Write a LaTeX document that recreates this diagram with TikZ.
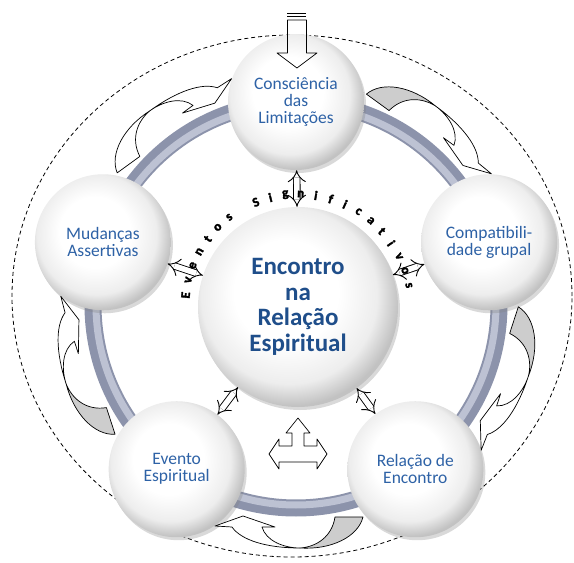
\documentclass[tikz,border=0pt]{standalone}
\usepackage{fontspec}
\setmainfont{Carlito}
\newfontfamily\glyphfont[FakeBold=2.5]{Carlito}
\usetikzlibrary{arrows.meta,shadows,positioning}

\definecolor{txtblue}{HTML}{2E62A6}
\definecolor{deepblue}{HTML}{1F4E8A}
\definecolor{ringdark}{HTML}{8C93AB}
\definecolor{ringlight}{HTML}{BDC2D3}
\definecolor{tailgray}{HTML}{CDCDCD}

\pgfdeclareradialshading{bubble}{\pgfpoint{-4bp}{5bp}}{color(0bp)=(white); color(13bp)=(white); color(22bp)=(black!7); color(27bp)=(black!24); color(50bp)=(black!24)}

\tikzset{
  stage/.style={circle, minimum size=136pt, shading=bubble, align=center,
    drop shadow={shadow xshift=2pt, shadow yshift=-3pt, opacity=0.3},
    text=txtblue, font=\fontsize{17.5}{17}\selectfont},
  core/.style={stage, minimum size=200pt, text=deepblue,
    font=\fontsize{25}{25.5}\selectfont\bfseries},
  link/.style={double=white, double distance=5.6pt, line width=0.9pt, {Implies}-{Implies}},
  turn/.style={draw=black, line width=0.7pt, line join=round},
  glyph/.style={inner sep=0pt, font=\fontsize{13}{13}\glyphfont\bfseries},
}

% curved arrow between two stages: #1 rotation, #2 tail colour
\newcommand{\swirl}[2]{%
  \begin{scope}[rotate=#1]
    \draw[turn, fill=#2] (67,-212) -- (39,-212) .. controls (36,-232) and (20,-242) .. (4,-243)
      .. controls (35,-245) and (62,-232) .. (67,-212) -- cycle;
    \draw[turn, fill=white] (4,-243) .. controls (-30,-243) and (-55,-235) .. (-64,-222)
      -- (-81,-221) -- (-53,-211) -- (-21,-222) -- (-34,-222)
      .. controls (-30,-236) and (-12,-243) .. (4,-243) -- cycle;
  \end{scope}}

\begin{document}
\begin{tikzpicture}[x=1pt, y=1pt]
  \useasboundingbox (-296,-258) rectangle (278,305);

  % outer dashed border and ring
  \draw[dash pattern=on 4pt off 3pt, line width=0.8pt] (-4,9) ellipse[x radius=280, y radius=261];
  \draw[ringdark, line width=17pt] (0,0) circle[radius=203];
  \draw[ringlight, line width=7pt] (0,0) circle[radius=200];

  % stages
  \node[core] (centro) at (2,-2) {Encontro\\na\\Relação\\Espiritual};
  \node[stage] (consc) at (90:203) {Consciência\\das\\Limitações};
  \node[stage] (compat) at (18:203) {Compatibili-\\dade grupal};
  \node[stage] (relac) at (-54:203) {Relação de\\Encontro};
  \node[stage] (evento) at (-126:203) {Evento\\Espiritual};
  \node[stage] (mudanc) at (162:203) {Mudanças\\Assertivas};

  % links to the centre
  \draw[link] (consc) -- (centro);
  \draw[link] (compat) -- (centro);
  \draw[link] (relac) -- (centro);
  \draw[link] (evento) -- (centro);
  \draw[link] (mudanc) -- (centro);

  % text on the arc
  \foreach \ch [count=\i, evaluate=\i as \ang using 174-(\i-1)*7.76] in
      {E,v,e,n,t,o,s,{},S,i,g,n,i,f,i,c,a,t,i,v,o,s}
    \node[glyph, rotate=\ang-90] (g\i) at ([shift={(\ang:113)}]centro) {\ch};

  % cycle arrows
  \swirl{0}{tailgray}
  \swirl{72}{tailgray}
  \swirl{144}{tailgray}
  \swirl{216}{white}
  \swirl{288}{tailgray}

  % entry arrow
  \draw[turn] (-8.5,285) -- (10.5,285) -- (10.5,252) -- (21,252) -- (1,237)
    -- (-19,252) -- (-8.5,252) -- cycle;
  \draw[line width=0.9pt] (-8.5,292) -- (10.5,292);
  \draw[line width=0.9pt] (-8.5,288.5) -- (10.5,288.5);

  % three-way arrow
  \draw[turn, fill=white] (2,-113) -- (14,-128) -- (8,-128) -- (8,-141) -- (21,-141)
    -- (21,-134) -- (31,-149) -- (21,-164) -- (21,-157) -- (-17,-157) -- (-17,-164)
    -- (-27,-149) -- (-17,-134) -- (-17,-141) -- (-4,-141) -- (-4,-128) -- (-10,-128) -- cycle;
\end{tikzpicture}
\end{document}
